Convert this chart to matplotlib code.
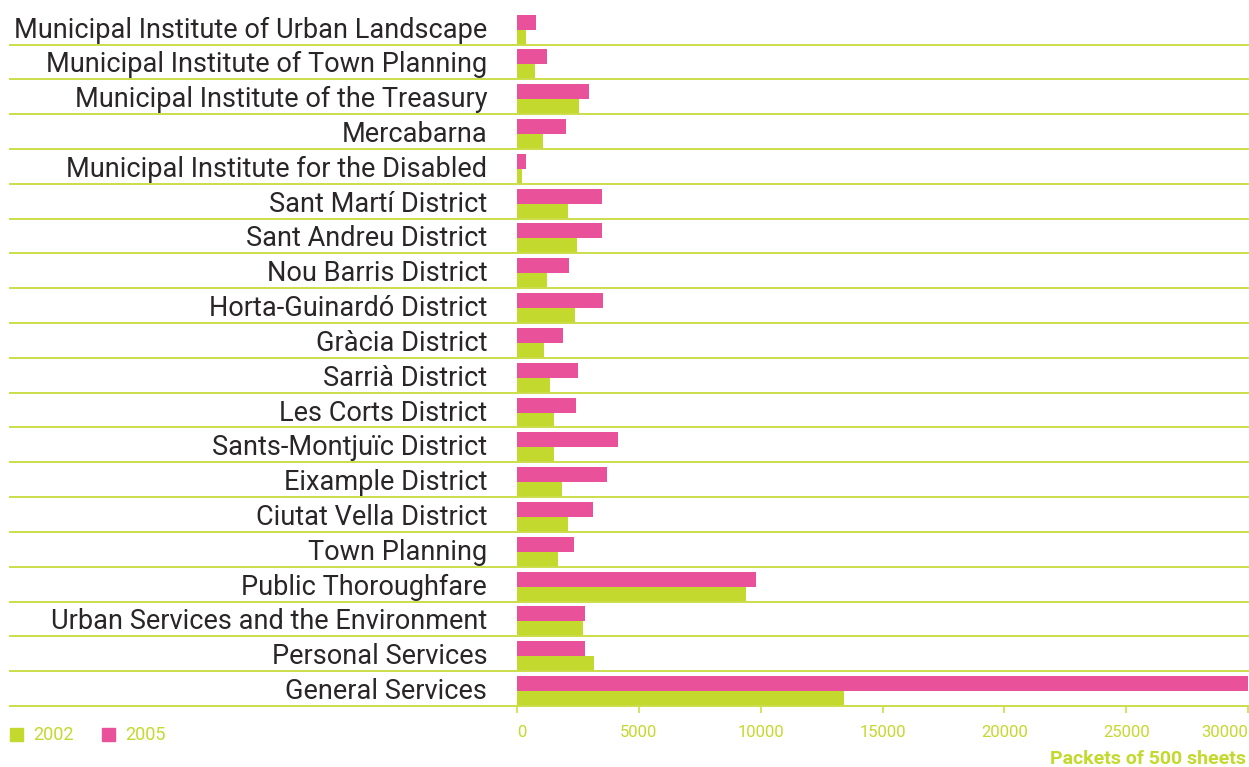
import matplotlib
matplotlib.use('Agg')
import matplotlib.pyplot as plt
import numpy as np
from matplotlib.patches import Rectangle

# categories listed top to bottom as in the chart
categories = [
    'Municipal Institute of Urban Landscape',
    'Municipal Institute of Town Planning',
    'Municipal Institute of the Treasury',
    'Mercabarna',
    'Municipal Institute for the Disabled',
    'Sant Martí District',
    'Sant Andreu District',
    'Nou Barris District',
    'Horta-Guinardó District',
    'Gràcia District',
    'Sarrià District',
    'Les Corts District',
    'Sants-Montjuïc District',
    'Eixample District',
    'Ciutat Vella District',
    'Town Planning',
    'Public Thoroughfare',
    'Urban Services and the Environment',
    'Personal Services',
    'General Services',
]
vals_2002 = [350, 720, 2525, 1050, 225, 2090, 2460, 1230, 2380, 1110, 1350,
             1520, 1520, 1850, 2090, 1680, 9380, 2690, 3180, 13400]
vals_2005 = [800, 1250, 2935, 2030, 350, 3490, 3490, 2135, 3530, 1890, 2500,
             2420, 4150, 3700, 3120, 2340, 9800, 2810, 2810, 30000]
years = ['2002', '2005']
xticks = [0, 5000, 10000, 15000, 20000, 25000, 30000]

lime = '#c3d92d'
line_col = '#cbdd4a'
pink = '#e9529a'
dark = '#2a2627'
font = 'Roboto'

fig = plt.figure(figsize=(12.49, 7.67), dpi=100)
ax = fig.add_axes([517 / 1249, 61 / 767, 731 / 1249, (706 - 9.7) / 767])

n = len(categories)
ypos = np.arange(n)[::-1]  # top category gets highest y
h = 0.43
ax.barh(ypos - 0.5, vals_2002, height=h, align='edge', color=lime, zorder=2)
ax.barh(ypos - 0.5 + h, vals_2005, height=h, align='edge', color=pink, zorder=2)

ax.set_xlim(0, 30000)
ax.set_ylim(-0.5, n - 0.5)

# row separator lines, extended into the label area
ext = -(517 - 10) / 731
for y in np.arange(n) - 0.5:
    ax.axhline(y, xmin=ext, xmax=1, color=line_col, lw=1.4, clip_on=False, zorder=3)

for s in ax.spines.values():
    s.set_visible(False)

ax.set_yticks(ypos)
ax.set_yticklabels(categories, fontsize=19.5, color=dark, family=font)
ax.tick_params(axis='y', length=0, pad=21.5)

ax.set_xticks(xticks)
ax.set_xticklabels([str(t) for t in xticks], fontsize=12, color=lime, family=font)
ax.tick_params(axis='x', length=5, width=1.2, color=line_col, pad=9)
lbls = ax.get_xticklabels()
lbls[-1].set_ha('right')
lbls[0].set_ha('left')

fig.text(1246 / 1249, 1 - 759 / 767, 'Packets of 500 sheets', ha='right', va='center',
         fontsize=14, fontweight='bold', color=lime, family=font)

# legend
for i, (yr, c) in enumerate(zip(years, [lime, pink])):
    x0 = 10 + i * 92
    fig.patches.append(Rectangle((x0 / 1249, 1 - 741 / 767), 13 / 1249, 13 / 767,
                                 transform=fig.transFigure, color=c, figure=fig))
    fig.text((x0 + 23) / 1249, 1 - 734.5 / 767, yr, ha='left', va='center',
             fontsize=13, color=lime, family=font)

fig.savefig('out.png', dpi=100)
